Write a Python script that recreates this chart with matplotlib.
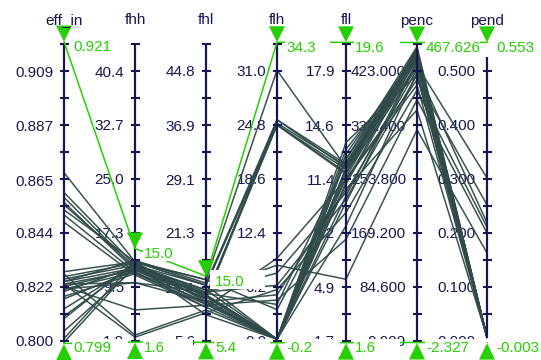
import matplotlib
matplotlib.use("Agg")
import matplotlib.pyplot as plt
from matplotlib.patches import Polygon, Rectangle

plt.rcParams['font.family'] = ['Liberation Sans', 'DejaVu Sans']

# ---------------- data ----------------
dims = ["eff_in", "fhh", "fhl", "flh", "fll", "penc", "pend"]
dim_lo = [0.800, 1.75, 5.6, 0.0, 1.7, 0.0, 0.0]
dim_hi = [0.920, 44.3, 48.7, 34.1, 19.5, 465.3, 0.55]
tick_labels = [
    ["0.800", "0.822", "0.844", "0.865", "0.887", "0.909"],
    ["1.8", "9.5", "17.3", "25.0", "32.7", "40.4"],
    ["5.6", "13.4", "21.3", "29.1", "36.9", "44.8"],
    ["0.0", "6.2", "12.4", "18.6", "24.8", "31.0"],
    ["1.7", "4.9", "8.2", "11.4", "14.6", "17.9"],
    ["0.000", "84.600", "169.200", "253.800", "338.400", "423.000"],
    ["0.000", "0.100", "0.200", "0.300", "0.400", "0.500"],
]

eff_in = [0.868, 0.860, 0.858, 0.856, 0.853, 0.851, 0.848, 0.828, 0.827, 0.825, 0.824, 0.823,
          0.823, 0.823, 0.822, 0.821, 0.820, 0.817, 0.813, 0.809, 0.804, 0.801, 0.7995, 0.821,
          0.826, 0.822, 0.855, 0.818, 0.824, 0.810]
fhh = [13.1, 12.6, 12.2, 11.9, 13.1, 11.6, 11.2, 13.1, 2.6, 12.6, 12.2, 11.9,
       2.3, 10.1, 6.2, 11.6, 12.4, 11.9, 12.6, 13.1, 12.2, 13.1, 12.6, 10.1,
       12.9, 12.0, 12.4, 11.4, 13.3, 12.8]
fhl = [13.7, 13.0, 12.3, 11.8, 14.5, 11.3, 10.5, 13.7, 10.1, 12.7, 12.3, 11.8,
       9.7, 11.3, 10.8, 10.5, 13.0, 12.3, 13.7, 14.5, 11.6, 11.3, 9.4, 12.7,
       12.0, 11.0, 12.5, 10.9, 14.0, 12.0]
flh = [0.2, 0.2, 24.8, 25.4, 31.1, 0.2, 9.5, 24.8, 0.2, 7.8, 0.2, 24.8,
       5.9, 0.2, 4.7, 0.2, 8.7, 0.2, 25.4, 3.6, 0.2, 5.3, 0.2, 6.4,
       0.2, 0.2, 4.2, 0.2, 25.0, 0.2]
fll = [12.6, 12.0, 11.8, 12.1, 12.1, 13.6, 11.4, 11.7, 11.1, 10.6, 10.0, 12.0,
       9.4, 11.5, 7.8, 12.1, 5.4, 11.8, 12.3, 11.4, 12.6, 10.8, 13.2, 10.2,
       11.2, 10.4, 12.4, 12.9, 12.2, 8.6]
penc = [448, 440, 456, 432, 459, 417, 409, 453, 443, 425, 437, 448,
        393, 451, 378, 445, 331, 428, 456, 401, 461, 362, 440, 417,
        450, 438, 446, 452, 447, 420]
pend = [0.007, 0.007, 0.007, 0.302, 0.007, 0.007, 0.252, 0.007, 0.007, 0.219, 0.007, 0.007,
        0.211, 0.007, 0.200, 0.007, 0.163, 0.007, 0.007, 0.007, 0.007, 0.007, 0.007, 0.007,
        0.007, 0.007, 0.007, 0.007, 0.007, 0.007]

hi_labels = ["0.921", "15.0", "15.0", "34.3", "19.6", "467.626", "0.553"]
lo_labels = ["0.799", "1.6", "5.4", "-0.2", "1.6", "-2.327", "-0.003"]

# ---------------- style / layout ----------------
NAVY = "#17174f"
LINE = "#2f4a48"
GREEN = "#26d000"
AX_X = [64, 135, 206, 277, 346, 417, 487]
Y_TOP, Y_BOT = 44, 341
FS = 11


def ypos(i, v):
    return Y_BOT - (v - dim_lo[i]) / (dim_hi[i] - dim_lo[i]) * (Y_BOT - Y_TOP)


fig = plt.figure(figsize=(5.41, 3.60), dpi=100)
ax = fig.add_axes([0, 0, 1, 1])
ax.set_xlim(0, 541)
ax.set_ylim(360, 0)
ax.axis('off')

series = [eff_in, fhh, fhl, flh, fll, penc, pend]

# polylines
for j in range(len(eff_in)):
    ys = [ypos(i, series[i][j]) for i in range(len(dims))]
    ax.plot(AX_X, ys, color=LINE, lw=1.1, alpha=0.95, zorder=2)

# axes, ticks, labels
for i, x in enumerate(AX_X):
    top, bot = (57, 338) if dims[i] == "pend" else (Y_TOP, Y_BOT)
    ax.plot([x, x], [top, bot], color=NAVY, lw=1.6, zorder=3, solid_capstyle='butt')
    for k in range(12):
        yk = Y_TOP + k * (Y_BOT - Y_TOP) / 11
        if top - 0.5 <= yk <= bot + 0.5:
            ax.plot([x - 3.5, x + 3.5], [yk, yk], color=NAVY, lw=1.5, zorder=3)
    for lab in tick_labels[i]:
        ax.text(x - 11, ypos(i, float(lab)) + 5.5, lab, ha='right', va='baseline',
                fontsize=FS, color=NAVY, zorder=1)
    ax.text(x, 24.5, dims[i], ha='center', va='baseline', fontsize=FS, color=NAVY, zorder=8)

# highlighted lines
hi_vals = [float(s) for s in hi_labels]
lo_vals = [float(s) for s in lo_labels]
hi_y = [ypos(i, v) for i, v in enumerate(hi_vals)]
lo_y = [ypos(i, v) for i, v in enumerate(lo_vals)]
ax.plot(AX_X, hi_y, color=GREEN, lw=1.1, zorder=4)
ax.plot(AX_X, lo_y, color=GREEN, lw=1.1, zorder=4)

# white label boxes
top_box_right = [None, None, None, 330, 400, 480, None]
bot_box_right = [128, 193, 270, 340, 400, 487, 541]
for i, x in enumerate(AX_X):
    if top_box_right[i] is not None:
        ax.add_patch(Rectangle((x + 8, 36), top_box_right[i] - x - 8, 19,
                               facecolor='white', edgecolor='none', zorder=5))
    ax.add_patch(Rectangle((x + 8, 339), bot_box_right[i] - x - 8, 21,
                           facecolor='white', edgecolor='none', zorder=5))
ax.add_patch(Rectangle((143, 241), 32, 20, facecolor='white', edgecolor='none', zorder=5))
ax.add_patch(Rectangle((210, 270), 55, 19, facecolor='white', edgecolor='none', zorder=5))

# green labels and triangles
for i, x in enumerate(AX_X):
    a = hi_y[i]
    ax.text(x + 9, a + 9.8, hi_labels[i], ha='left', va='baseline', fontsize=FS,
            color=GREEN, zorder=6)
    ax.add_patch(Polygon([(x - 8, a - 16), (x + 8, a - 16), (x, a)], closed=True,
                         facecolor=GREEN, edgecolor='none', zorder=7))
    b = lo_y[i]
    ax.text(x + 9, 352, lo_labels[i], ha='left', va='baseline', fontsize=FS,
            color=GREEN, zorder=6)
    ax.add_patch(Polygon([(x - 8, b + 17), (x + 8, b + 17), (x, b + 0.5)], closed=True,
                         facecolor=GREEN, edgecolor='none', zorder=7))

fig.savefig("out.png", dpi=100)
